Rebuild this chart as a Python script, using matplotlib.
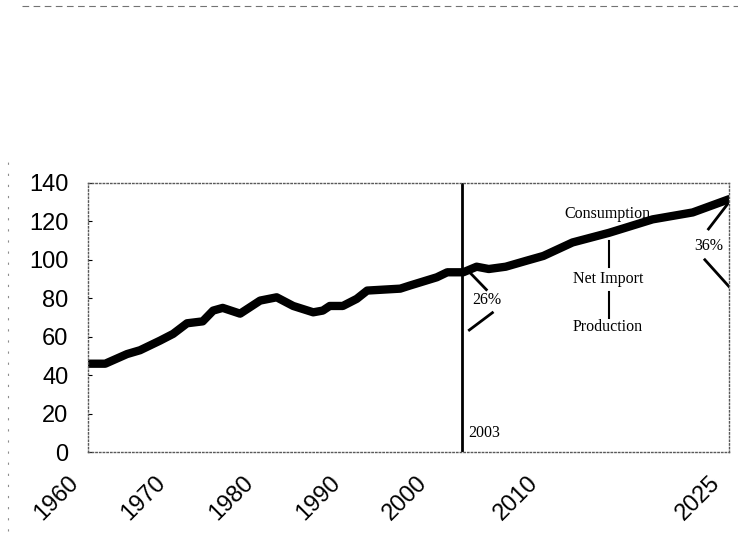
import numpy as np
import matplotlib.pyplot as plt
import matplotlib.transforms as mtransforms
from matplotlib.lines import Line2D

# consumption curve
years = [1960, 1962, 1964.5, 1966, 1968.3, 1969.8, 1971.4, 1973.2, 1974.4, 1975.5,
         1977.5, 1979.8, 1981.7, 1983.6, 1985.9, 1987, 1987.8, 1989.3, 1990.9, 1992.1,
         1995.9, 1997, 2000.1, 2001.3, 2003.1, 2004.2, 2005.2, 2006.6, 2008.3, 2009.7,
         2012.1, 2015.1, 2018.7, 2022, 2025]
values = [46, 46, 51, 53, 58, 61.5, 67, 68, 73.6, 75,
          72, 78.8, 80.5, 76, 72.7, 73.6, 76, 76, 79.7, 84,
          85, 86.6, 90.9, 93.5, 93.5, 96.4, 95.2, 96.4, 99.5, 102,
          109, 114, 121, 124.6, 131.5]

xtick_years = [1960, 1970, 1980, 1990, 2000, 2010, 2025]
ytick_vals = [0, 20, 40, 60, 80, 100, 120, 140]
marker_year = 2003

# projection years are drawn wider than historical ones
def fwd(x):
    x = np.asarray(x, dtype=float)
    return np.where(x <= 2003, x - 1960, 43 + (x - 2003) * 1.395)

def inv(u):
    u = np.asarray(u, dtype=float)
    return np.where(u <= 43, u + 1960, 2003 + (u - 43) / 1.395)

fig = plt.figure(figsize=(7.38, 5.59), dpi=100)
ax = fig.add_axes([0.119, 0.191, 0.869, 0.482])
ax.set_xscale('function', functions=(fwd, inv))

ax.plot(years, values, color='black', lw=6, solid_capstyle='round')
ax.axvline(marker_year, color='black', lw=2)

ax.set_xlim(1960, 2025)
ax.set_ylim(0, 140)
ax.set_xticks(xtick_years)
ax.set_xticklabels([str(y) for y in xtick_years], rotation=45, ha='right',
                   rotation_mode='anchor', fontsize=17, family='Liberation Sans')
ax.set_yticks(ytick_vals)
ax.set_yticklabels([str(v) for v in ytick_vals], fontsize=17, family='Liberation Sans')
ax.tick_params(axis='x', length=0, pad=14)
ax.tick_params(axis='y', length=3, direction='in', pad=14)
ax.minorticks_off()

shift = mtransforms.ScaledTranslation(-0.20, 0, fig.dpi_scale_trans)
for lab in ax.get_xticklabels():
    lab.set_transform(lab.get_transform() + shift)

for s in ax.spines.values():
    s.set_linestyle(':')
    s.set_color('0.35')
    s.set_linewidth(1.0)

serif = dict(family='Liberation Serif', fontsize=11.5, color='black')
ax.text(2003.5, 8, '2003', **serif)
ax.text(2003.8, 77, '26%', **serif)
ax.plot([2003.7, 2005.0], [93, 84.5], color='black', lw=2)
ax.plot([2003.6, 2005.5], [63.5, 72.5], color='black', lw=2)
ax.text(2023.3, 107, '36%', ha='center', va='center', **serif)
ax.plot([2023.3, 2025], [116, 130], color='black', lw=2)
ax.plot([2023.0, 2025], [100, 86], color='black', lw=2)
ax.text(2015.0, 124, 'Consumption', ha='center', va='center', **serif)
ax.text(2015.0, 90, 'Net Import', ha='center', va='center', **serif)
ax.text(2015.0, 65, 'Production', ha='center', va='center', **serif)
ax.plot([2015.1, 2015.1], [110, 96], color='black', lw=1.5)
ax.plot([2015.1, 2015.1], [83, 70], color='black', lw=1.5)

# scan border remnants
fig.add_artist(Line2D([0.03, 1.0], [0.99, 0.99], color='0.45', lw=0.8, ls=(0, (6, 4))))
fig.add_artist(Line2D([0.011, 0.011], [0.05, 0.72], color='0.55', lw=0.8, ls=(0, (2, 8))))

fig.savefig('out.png', dpi=100)
